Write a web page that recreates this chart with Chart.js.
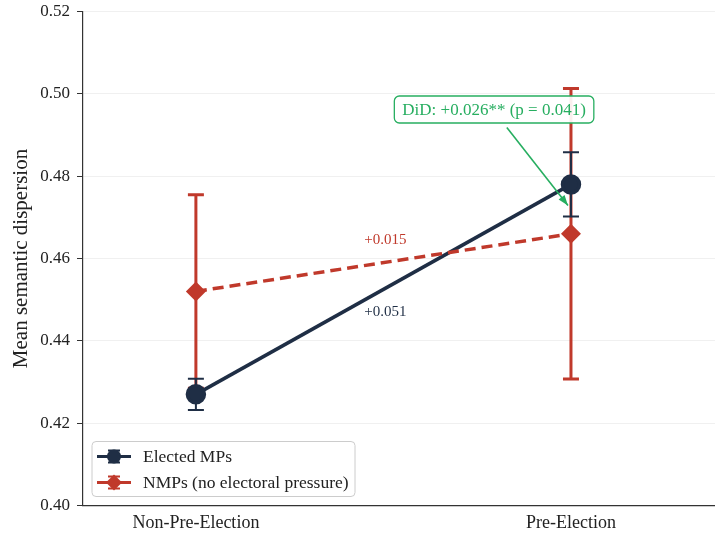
<!DOCTYPE html>
<html>
<head>
<meta charset="utf-8">
<script src="https://cdn.jsdelivr.net/npm/chart.js@4"></script>
<style>
  html, body { margin: 0; padding: 0; background: #fff; }
  #wrap { width: 715px; height: 538px; }
</style>
</head>
<body>
<div id="wrap"><canvas id="chart"></canvas></div>
<script>
const categories = ["Non-Pre-Election", "Pre-Election"];
const electedMean = [0.427, 0.478];
const electedLow = [0.4232, 0.4702];
const electedHigh = [0.4308, 0.4858];
const nmpMean = [0.452, 0.466];
const nmpLow = [0.4285, 0.4307];
const nmpHigh = [0.4755, 0.5013];
const yTicks = [0.40, 0.42, 0.44, 0.46, 0.48, 0.50, 0.52];

const NAVY = "#1f2e45";
const RED = "#c0392b";
const GREEN = "#27ae60";
const FONT = "'Liberation Serif', 'DejaVu Serif', serif";

const toPoints = (vals) => vals.map((v, i) => ({ x: i, y: v }));

const errorBars = {
    id: "errorBars",
    beforeDatasetsDraw(chart) {
        const { ctx, scales } = chart;
        const sets = [
            { low: nmpLow, high: nmpHigh, color: RED, width: 3 },
            { low: electedLow, high: electedHigh, color: NAVY, width: 2 },
        ];
        ctx.save();
        sets.forEach((s) => {
            ctx.strokeStyle = s.color;
            ctx.lineWidth = s.width;
            s.low.forEach((lo, i) => {
                const x = scales.x.getPixelForValue(i);
                const y1 = scales.y.getPixelForValue(lo);
                const y2 = scales.y.getPixelForValue(s.high[i]);
                ctx.beginPath();
                ctx.moveTo(x, y1);
                ctx.lineTo(x, y2);
                ctx.moveTo(x - 8, y1);
                ctx.lineTo(x + 8, y1);
                ctx.moveTo(x - 8, y2);
                ctx.lineTo(x + 8, y2);
                ctx.stroke();
            });
        });
        ctx.restore();
    },
};

const notes = {
    id: "notes",
    afterDatasetsDraw(chart) {
        const { ctx, scales, chartArea } = chart;
        const px = (v) => scales.x.getPixelForValue(v);
        const py = (v) => scales.y.getPixelForValue(v);
        ctx.save();
        ctx.font = "15px " + FONT;
        ctx.textAlign = "center";
        ctx.textBaseline = "middle";
        ctx.fillStyle = RED;
        ctx.fillText("+0.015", px(0.505), py(0.4644));
        ctx.fillStyle = NAVY;
        ctx.fillText("+0.051", px(0.505), py(0.4469));

        // DiD arrow
        const tx = px(0.829), ty = py(0.4918);
        const hx = px(0.992), hy = py(0.4729);
        ctx.strokeStyle = GREEN;
        ctx.fillStyle = GREEN;
        ctx.lineWidth = 1.6;
        ctx.beginPath();
        ctx.moveTo(tx, ty);
        ctx.lineTo(hx, hy);
        ctx.stroke();
        const ang = Math.atan2(hy - ty, hx - tx);
        ctx.beginPath();
        ctx.moveTo(hx, hy);
        ctx.lineTo(hx - 11 * Math.cos(ang - 0.35), hy - 11 * Math.sin(ang - 0.35));
        ctx.lineTo(hx - 11 * Math.cos(ang + 0.35), hy - 11 * Math.sin(ang + 0.35));
        ctx.closePath();
        ctx.fill();

        // DiD box
        const label = "DiD: +0.026** (p = 0.041)";
        ctx.font = "17px " + FONT;
        const cx = px(0.795), cy = py(0.4962);
        const w = ctx.measureText(label).width + 16;
        const h = 27;
        ctx.fillStyle = "rgba(255,255,255,0.92)";
        ctx.beginPath();
        ctx.roundRect(cx - w / 2, cy - h / 2, w, h, 5);
        ctx.fill();
        ctx.lineWidth = 1.3;
        ctx.stroke();
        ctx.fillStyle = GREEN;
        ctx.fillText(label, cx, cy + 1);

        // legend
        const lx = chartArea.left + 9, ly = chartArea.bottom - 64;
        ctx.fillStyle = "rgba(255,255,255,0.85)";
        ctx.strokeStyle = "#cccccc";
        ctx.lineWidth = 1;
        ctx.beginPath();
        ctx.roundRect(lx, ly, 263, 55, 4);
        ctx.fill();
        ctx.stroke();
        const rows = [
            { text: "Elected MPs", color: NAVY, shape: "circle" },
            { text: "NMPs (no electoral pressure)", color: RED, shape: "diamond" },
        ];
        ctx.font = "17.5px " + FONT;
        ctx.textAlign = "left";
        rows.forEach((r, i) => {
            const yy = ly + 15 + i * 26;
            const mx = lx + 22;
            ctx.strokeStyle = r.color;
            ctx.fillStyle = r.color;
            ctx.lineWidth = 3;
            ctx.beginPath();
            ctx.moveTo(lx + 5, yy);
            ctx.lineTo(lx + 39, yy);
            ctx.stroke();
            ctx.lineWidth = 2;
            ctx.beginPath();
            ctx.moveTo(mx, yy - 6);
            ctx.lineTo(mx, yy + 6);
            ctx.moveTo(mx - 6, yy - 6);
            ctx.lineTo(mx + 6, yy - 6);
            ctx.moveTo(mx - 6, yy + 6);
            ctx.lineTo(mx + 6, yy + 6);
            ctx.stroke();
            ctx.beginPath();
            if (r.shape === "circle") {
                ctx.arc(mx, yy, 7, 0, Math.PI * 2);
            } else {
                ctx.moveTo(mx, yy - 8);
                ctx.lineTo(mx + 8, yy);
                ctx.lineTo(mx, yy + 8);
                ctx.lineTo(mx - 8, yy);
                ctx.closePath();
            }
            ctx.fill();
            ctx.fillStyle = "#222";
            ctx.fillText(r.text, lx + 51, yy + 1);
        });
        ctx.restore();
    },
};

new Chart(document.getElementById("chart"), {
    type: "line",
    data: {
        datasets: [
            {
                label: "Elected MPs",
                data: toPoints(electedMean),
                borderColor: NAVY,
                backgroundColor: NAVY,
                borderWidth: 3.5,
                pointStyle: "circle",
                pointRadius: 8.5,
                pointHoverRadius: 8.5,
                order: 2,
            },
            {
                label: "NMPs (no electoral pressure)",
                data: toPoints(nmpMean),
                borderColor: RED,
                backgroundColor: RED,
                borderWidth: 3.5,
                borderDash: [11, 6],
                pointStyle: "rectRot",
                pointRadius: 10,
                pointHoverRadius: 10,
                pointBorderWidth: 0,
                order: 1,
            },
        ],
    },
    options: {
        responsive: true,
        maintainAspectRatio: false,
        animation: false,
        layout: { autoPadding: false, padding: { top: 11.5, right: 0, left: 0, bottom: 0 } },
        plugins: {
            legend: { display: false },
            tooltip: { enabled: false },
        },
        scales: {
            x: {
                type: "linear",
                min: -0.301,
                max: 1.384,
                afterBuildTicks: (scale) => {
                    scale.ticks = categories.map((_, i) => ({ value: i }));
                },
                afterFit: (scale) => {
                    scale.height = 32.5;
                    scale.paddingLeft = 0;
                    scale.paddingRight = 0;
                },
                ticks: {
                    callback: (v) => categories[v],
                    color: "#222",
                    font: { family: FONT, size: 18 },
                    padding: 1,
                    maxRotation: 0,
                },
                grid: { display: false, drawTicks: true, tickLength: 6, tickColor: "#333" },
                border: { color: "#333", width: 1.2 },
            },
            y: {
                min: 0.40,
                max: 0.52,
                afterBuildTicks: (scale) => {
                    scale.ticks = yTicks.map((v) => ({ value: v }));
                },
                afterFit: (scale) => {
                    scale.width = 83;
                    scale.paddingTop = 0;
                    scale.paddingBottom = 0;
                },
                ticks: {
                    callback: (v) => v.toFixed(2),
                    color: "#222",
                    font: { family: FONT, size: 17 },
                    padding: 7,
                },
                grid: {
                    color: "#f0f0f0",
                    tickColor: "#333",
                    tickLength: 6,
                },
                border: { color: "#333", width: 1.2 },
                title: {
                    display: true,
                    text: "Mean semantic dispersion",
                    color: "#222",
                    font: { family: FONT, size: 21 },
                    padding: { top: 9, bottom: 0 },
                },
            },
        },
    },
    plugins: [errorBars, notes],
});
</script>
</body>
</html>
